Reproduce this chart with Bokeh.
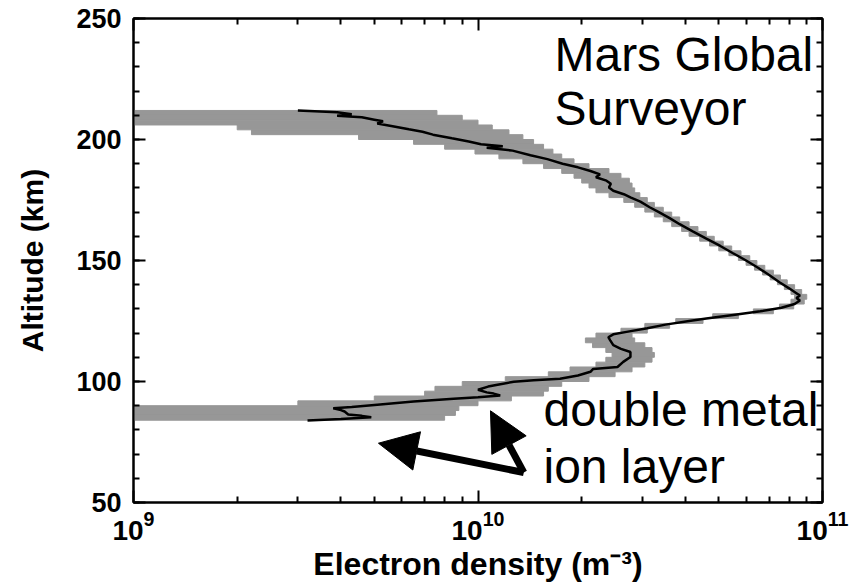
from bokeh.plotting import figure
from bokeh.models import (FixedTicker, SingleIntervalTicker, LinearAxis,
                          Arrow, NormalHead, Label)
from bokeh.embed import file_html
from bokeh.resources import INLINE

UNIT = 1e9  # densities below are in units of 1e9 m^-3

# Uncertainty band: 2-km altitude bins (centre altitude, lower and upper density)
band_alt = [211, 209, 207, 205, 203, 201, 199, 197, 195, 193, 191, 189, 187, 185,
            183, 181, 179, 177, 175, 173, 171, 169, 167, 165, 163, 161, 159, 157,
            155, 153, 151, 149, 147, 145, 143, 141, 139, 137, 135, 133, 131, 129,
            127, 125, 123, 121, 119, 117, 115, 113, 111, 109, 107, 105, 103, 101,
            99, 97, 95, 93, 91, 89, 87, 85]
band_lo = [0.5, 0.5, 0.5, 2.0, 2.2, 4.5, 6.5, 8.0, 9.8, 11.5, 13.5, 15.5, 17.5, 19.0,
           20.0, 21.0, 22.0, 24.0, 26.5, 28.5, 30.5, 32.5, 34.5, 36.5, 39.0, 41.0, 44.0, 47.0,
           50.0, 53.5, 57.0, 60.0, 63.5, 67.0, 70.5, 74.0, 77.5, 81.0, 83.0, 81.0, 75.0, 63.0,
           48.0, 37.5, 30.5, 26.0, 22.0, 20.5, 21.5, 23.5, 24.5, 23.5, 22.0, 18.5, 16.0, 12.0,
           9.0, 7.5, 7.0, 5.0, 3.0, 0.5, 0.5, 0.5]
band_hi = [7.6, 9.0, 10.0, 11.0, 12.3, 13.5, 14.5, 15.5, 16.5, 17.5, 19.0, 21.0, 24.0, 26.0,
           27.5, 28.0, 28.5, 29.5, 31.0, 32.5, 34.5, 36.5, 38.5, 41.0, 43.5, 46.0, 48.5, 51.5,
           54.5, 58.0, 61.5, 64.5, 68.0, 72.0, 75.5, 79.0, 83.0, 87.0, 90.0, 88.5, 82.5, 72.0,
           57.0, 45.0, 36.0, 31.0, 28.0, 28.5, 30.5, 32.0, 32.5, 32.0, 30.5, 28.0, 25.0, 21.0,
           17.5, 16.0, 15.5, 12.5, 10.0, 8.8, 8.6, 8.0]

# Electron density profile
prof_alt = [212.0, 211.3, 210.4, 209.8, 209.2, 208.2, 207.5, 206.6, 205.6, 204.2, 203.2,
            202.0, 200.5, 199.2, 198.0, 197.2, 196.6, 195.4, 193.5, 191.9, 190.0, 188.5,
            187.0, 185.6, 184.4, 183.0, 181.7, 180.2, 178.8, 177.4, 176.0, 174.3, 172.0,
            170.0, 167.5, 165.0, 162.0, 159.0, 156.0, 153.0, 150.0, 147.0, 144.0, 141.0,
            138.5, 136.5, 135.5, 134.5, 133.5, 132.0, 130.5, 129.0, 127.5, 126.0, 125.0,
            123.5, 122.0, 120.5, 119.5, 118.3, 117.0, 115.0, 113.5, 112.2, 110.1, 108.1,
            106.0, 105.2, 104.0, 102.5, 101.1, 100.5, 99.9, 98.8, 97.9, 96.6, 95.5, 95.0,
            94.2, 93.5, 92.9, 91.7, 90.5, 89.5, 88.9, 88.2, 87.6, 86.4, 85.8, 85.2, 84.5, 83.9]
prof_ne = [3.0, 3.9, 4.3, 3.9, 4.6, 5.0, 5.3, 5.1, 5.6, 6.3, 6.9,
           7.4, 8.4, 9.4, 10.2, 11.8, 10.6, 12.6, 14.2, 15.9, 17.6, 19.5,
           21.2, 22.6, 22.0, 23.6, 24.3, 24.0, 24.7, 26.5, 27.8, 29.6, 31.5,
           33.5, 36.0, 38.5, 42.0, 46.0, 50.5, 55.0, 60.0, 65.0, 70.0, 75.0,
           80.0, 84.0, 86.0, 84.0, 86.0, 83.0, 76.0, 66.0, 55.0, 46.0, 41.0,
           35.0, 31.0, 27.0, 24.7, 23.9, 24.2, 24.7, 26.0, 27.7, 27.7, 26.4,
           25.4, 21.6, 21.2, 19.5, 17.3, 14.5, 12.7, 11.5, 10.7, 10.0, 10.6, 11.1,
           11.6, 10.0, 8.5, 6.5, 5.2, 4.3, 3.8, 4.0, 4.1, 4.2, 4.6, 4.9, 4.0, 3.2]

x_major = [1e9, 1e10, 1e11]
x_minor = [m * 10.0 ** e for e in (9, 10) for m in range(2, 10)]

FONT = "Liberation Sans"
GRAY = "#979797"

p = figure(width=862, height=587, x_axis_type="log",
           x_range=(1e9, 1e11), y_range=(50, 250),
           output_backend="svg", toolbar_location=None,
           min_border_left=133, min_border_right=40,
           min_border_top=18, min_border_bottom=85)
p.grid.visible = False
p.outline_line_color = "black"
p.outline_line_width = 2
p.background_fill_color = "white"
p.border_fill_color = "white"

# gray uncertainty band, drawn as horizontal bins
p.hbar(y=band_alt, left=[v * UNIT for v in band_lo], right=[v * UNIT for v in band_hi],
       height=2, fill_color=GRAY, line_color=GRAY, line_width=1)

# mean profile
p.line([v * UNIT for v in prof_ne], prof_alt, line_color="black", line_width=2.5)

xt = FixedTicker(ticks=x_major, minor_ticks=x_minor)
yt = SingleIntervalTicker(interval=50, num_minor_ticks=5)


def style_axis(ax, labels=True):
    ax.axis_line_width = 2
    ax.major_tick_line_width = 2
    ax.minor_tick_line_width = 2
    ax.major_tick_in = 12
    ax.major_tick_out = 0
    ax.minor_tick_in = 6
    ax.minor_tick_out = 0
    if labels:
        ax.major_label_text_font = FONT
        ax.major_label_text_font_style = "bold"
        ax.major_label_text_color = "black"
        ax.axis_label_text_font = FONT
        ax.axis_label_text_font_style = "bold"
        ax.axis_label_text_color = "black"
    else:
        ax.major_label_text_font_size = "1px"
        ax.major_label_text_color = None
        ax.major_label_standoff = 0


xa = p.xaxis[0]
xa.ticker = xt
style_axis(xa)
xa.major_label_text_font_size = "28px"
xa.major_label_standoff = 8
xa.axis_label = "Electron density (m\u207b\u00b3)"
xa.axis_label_text_font_size = "32px"
xa.axis_label_standoff = 3

ya = p.yaxis[0]
ya.ticker = yt
style_axis(ya)
ya.major_label_text_font_size = "27px"
ya.major_label_standoff = 12
ya.axis_label = "Altitude (km)"
ya.axis_label_text_font_size = "30px"
ya.axis_label_standoff = 24

# frame ticks on the top and right sides (no labels)
top = LinearAxis(ticker=xt)
style_axis(top, labels=False)
p.add_layout(top, "above")

right = LinearAxis(ticker=yt)
style_axis(right, labels=False)
p.add_layout(right, "right")

# annotation text
for txt, x, y in [("Mars Global", 1.667e10, 235.0), ("Surveyor", 1.667e10, 213.0),
                  ("double metal", 1.549e10, 88.5), ("ion layer", 1.549e10, 65.0)]:
    p.add_layout(Label(x=x, y=y, text=txt, text_font=FONT, text_font_size="48px",
                       text_color="black", text_baseline="alphabetic"))

# arrows pointing at the two metal ion layers
vertex = (1.358e10, 62.4)
for tip in [(5.14e9, 74.5), (1.087e10, 87.9)]:
    p.add_layout(Arrow(x_start=vertex[0], y_start=vertex[1], x_end=tip[0], y_end=tip[1],
                       line_width=7, line_color="black",
                       end=NormalHead(size=39, fill_color="black", line_color="black")))

open("out.html", "w").write(file_html(p, INLINE))
